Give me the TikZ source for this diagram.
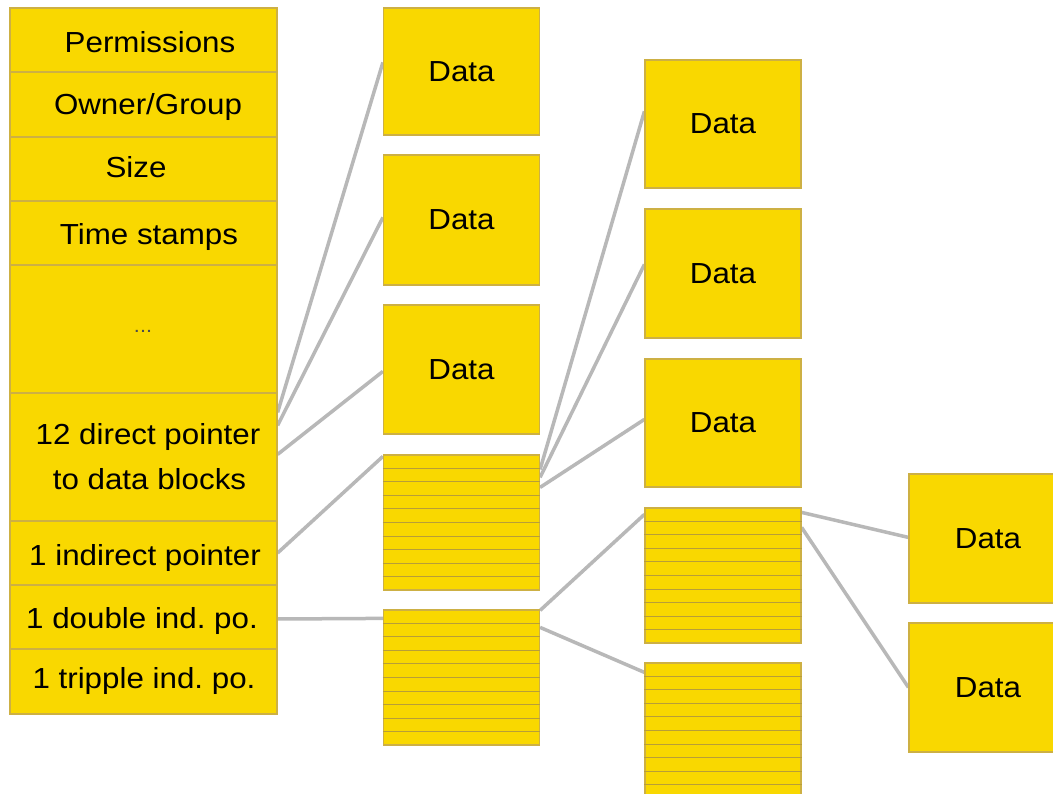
\documentclass[tikz,border=0pt]{standalone}
\usepackage{fontspec}
\setmainfont{Liberation Sans}[FakeStretch=1.08]
\usetikzlibrary{calc,backgrounds}
\definecolor{blockfill}{HTML}{F9D800}
\definecolor{blockedge}{HTML}{CDB044}
\definecolor{rowedge}{HTML}{B89E38}
\definecolor{wire}{HTML}{B8B8B8}
\frenchspacing
\tikzset{
  every node/.style={font=\fontsize{29}{33}\selectfont},
  cell/.style={draw=blockedge, fill=blockfill, line width=1.2pt, minimum width=267pt, inner sep=0pt},
  datablk/.style={draw=blockedge, fill=blockfill, line width=1.2pt, minimum width=156pt, minimum height=128pt, inner sep=0pt},
  ptrblk/.style={draw=blockedge, fill=blockfill, line width=1.2pt, minimum width=156pt, minimum height=135pt, inner sep=0pt},
  lbl/.style={anchor=base, inner sep=0pt},
  wireline/.style={draw=wire, line width=3.5pt},
  rowline/.style={draw=rowedge, line width=1pt}
}
\newcommand{\ptrrows}[1]{%
  \foreach \i in {1,...,9}{%
    \draw[rowline] ($(#1.north west)!\i/10!(#1.south west)$) -- ($(#1.north east)!\i/10!(#1.south east)$);
  }%
}
\begin{document}
\begin{tikzpicture}[x=1pt,y=-1pt]
\clip (0,0) rectangle (1053,794);

% inode column
\node[cell, minimum height=64pt] (perm) at (143.5,40) {};
\node[cell, minimum height=65pt] (owner) at (143.5,104.5) {};
\node[cell, minimum height=64pt] (size) at (143.5,169) {};
\node[cell, minimum height=64pt] (time) at (143.5,233) {};
\node[cell, minimum height=128pt] (dots) at (143.5,329) {};
\node[cell, minimum height=128pt] (direct) at (143.5,457) {};
\node[cell, minimum height=64pt] (indirect) at (143.5,553) {};
\node[cell, minimum height=64pt] (double) at (143.5,617) {};
\node[cell, minimum height=65pt] (triple) at (143.5,681.5) {};

\node[lbl] (tperm) at (150,53) {Permissions};
\node[lbl] (towner) at (148,115) {Owner/Group};
\node[lbl] (tsize) at (136,178) {Size};
\node[lbl] (ttime) at (149,245) {Time stamps};
\node[lbl, font=\fontsize{20}{22}\selectfont, text=black!70] (tdots) at (143,333) {...};
\node[lbl] (tdir1) at (148,445) {12 direct pointer};
\node[lbl] (tdir2) at (149.5,489) {to data blocks};
\node[lbl] (tind) at (145,565) {1 indirect pointer};
\node[lbl] (tdbl) at (142,628) {1 double ind. po.};
\node[lbl] (ttri) at (144,688) {1 tripple ind. po.};

% column 2
\node[datablk, minimum height=127pt] (d1) at (461.5,71.5) {Data};
\node[datablk, minimum height=130pt] (d2) at (461.5,220) {Data};
\node[datablk, minimum height=129pt] (d3) at (461.5,369.5) {Data};
\node[ptrblk] (ib) at (461.5,522.5) {};
\node[ptrblk] (db) at (461.5,677.5) {};
\ptrrows{ib}
\ptrrows{db}

% column 3
\node[datablk] (e1) at (723,124) {Data};
\node[datablk, minimum height=129pt] (e2) at (723,273.5) {Data};
\node[datablk] (e3) at (723,423) {Data};
\node[ptrblk] (eb1) at (723,575.5) {};
\node[ptrblk] (eb2) at (723,730.5) {};
\ptrrows{eb1}
\ptrrows{eb2}

% column 4
\node[datablk, minimum width=158pt, minimum height=129pt] (f1) at (988,538.5) {Data};
\node[datablk, minimum width=158pt, minimum height=129pt] (f2) at (988,687.5) {Data};

% connectors
\begin{scope}[on background layer]
\fill[white] (0,0) rectangle (1053,794);
\draw[wireline] ($(direct.north east)+(0,20)$) -- ($(d1.north west)+(0,55)$);
\draw[wireline] ($(direct.north east)+(0,33)$) -- ($(d2.north west)+(0,63)$);
\draw[wireline] ($(direct.north east)+(0,62)$) -- ($(d3.north west)+(0,67)$);
\draw[wireline] (indirect.east) -- ($(ib.north west)+(0,2)$);
\draw[wireline] ($(double.east)+(0,2)$) -- ($(db.north west)+(0,9)$);
\draw[wireline] ($(ib.north east)+(0,15)$) -- ($(e1.north west)+(0,52)$);
\draw[wireline] ($(ib.north east)+(0,23)$) -- ($(e2.north west)+(0,56)$);
\draw[wireline] ($(ib.north east)+(0,33)$) -- ($(e3.north west)+(0,61)$);
\draw[wireline] ($(db.north east)+(0,1)$) -- ($(eb1.north west)+(0,7)$);
\draw[wireline] ($(db.north east)+(0,18)$) -- ($(eb2.north west)+(0,10)$);
\draw[wireline] ($(eb1.north east)+(0,5)$) -- ($(f1.north west)+(0,64)$);
\draw[wireline] ($(eb1.north east)+(0,20)$) -- ($(f2.north west)+(0,65)$);
\end{scope}
\end{tikzpicture}
\end{document}
